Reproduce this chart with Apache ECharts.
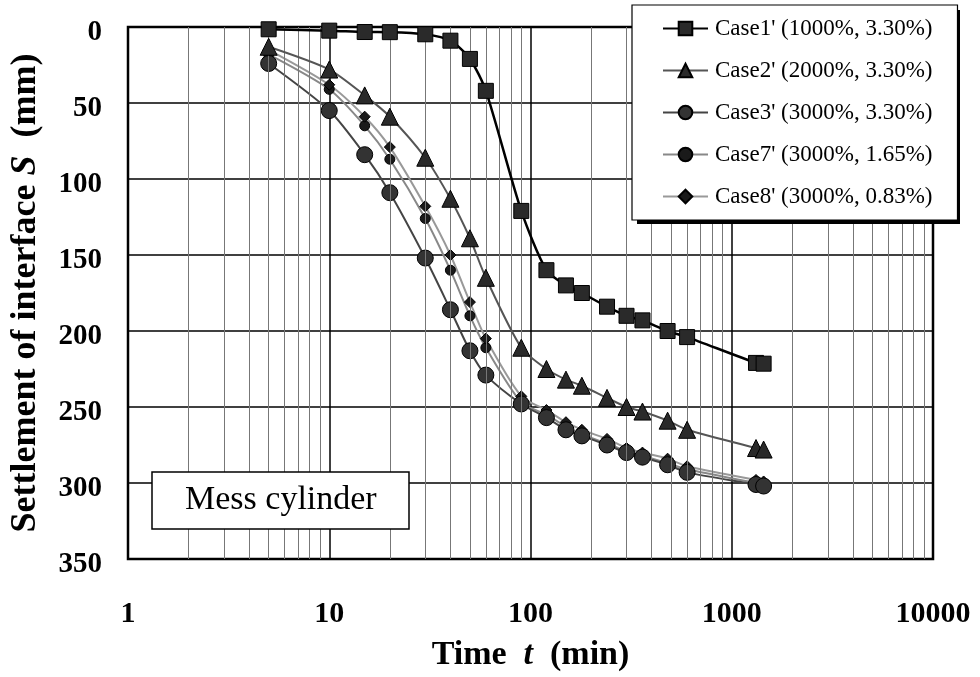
<!DOCTYPE html>
<html>
<head>
<meta charset="utf-8">
<script src="https://cdn.jsdelivr.net/npm/echarts@6/dist/echarts.min.js"></script>
<style>
html,body{margin:0;padding:0;background:#fff;}
#chart{width:980px;height:677px;}
</style>
</head>
<body>
<div id="chart"></div>
<script>
// Time t (min)
var times = [5, 10, 15, 20, 30, 40, 50, 60, 90, 120, 150, 180, 240, 300, 360, 480, 600, 1320, 1440];
// Settlement of interface S (mm)
var case1 = [1.5, 2.4, 3.3, 3.4, 4.8, 9, 21, 42, 121, 160, 170, 175, 184, 190, 193, 200, 204, 221, 221.5];
var case2 = [13, 28, 45, 59, 86, 113, 139, 165, 211, 225, 232, 236, 244, 250, 253, 259, 265, 277, 278];
var case3 = [24, 55, 84, 109, 152, 186, 213, 229, 248, 257, 265, 269, 275, 280, 283, 288, 293, 301, 302];
var case7 = [18, 41, 65, 87, 126, 160, 190, 211, 247, 255, 263, 268, 274, 279, 282, 287, 291, 300, 301];
var case8 = [15, 38, 59, 79, 118, 150, 181, 205, 243, 252, 260, 265, 271, 277, 280, 284, 289, 298, 299];
var seriesNames = ["Case1' (1000%, 3.30%)", "Case2' (2000%, 3.30%)", "Case3' (3000%, 3.30%)", "Case7' (3000%, 1.65%)", "Case8' (3000%, 0.83%)"];
var xTickLabels = ['1', '10', '100', '1000', '10000'];
var yTicks = [0, 50, 100, 150, 200, 250, 300, 350];
var minorGrid = [2,3,4,5,6,7,8,9,20,30,40,50,60,70,80,90,200,300,400,500,600,700,800,900,2000,3000,4000,5000,6000,7000,8000,9000];

function pairs(ys){ return times.map(function(t,i){ return [t, ys[i]]; }); }

var serif = 'Liberation Serif, Times New Roman, serif';
var chart = echarts.init(document.getElementById('chart'));

var option = {
  backgroundColor: '#fff',
  animation: false,
  grid: {left: 128, right: 47, top: 27, bottom: 114, show: true, borderColor: '#000', borderWidth: 2.5, backgroundColor: 'transparent'},
  graphic: [
    {type: 'rect', left: 637, top: 10, z: 15, shape: {width: 323, height: 214}, style: {fill: '#000'}, silent: true}
  ],
  title: {
    text: 'Mess cylinder',
    left: 152, top: 472, z: 20,
    padding: [11, 33, 11, 33],
    borderColor: '#000', borderWidth: 1.5, backgroundColor: '#fff',
    textStyle: {fontFamily: serif, fontSize: 34, fontWeight: 'normal', color: '#000', lineHeight: 35}
  },
  legend: {
    data: seriesNames,
    orient: 'vertical',
    left: 632, top: 5, z: 20,
    padding: [11, 25, 11, 30],
    itemWidth: 45, itemHeight: 17, itemGap: 17,
    backgroundColor: '#fff', borderColor: '#000', borderWidth: 1.2,
    textStyle: {fontFamily: serif, fontSize: 23, color: '#000', lineHeight: 25, padding: [0,0,0,2]}
  },
  xAxis: {
    type: 'log', logBase: 10, min: 1, max: 10000,
    name: 'Time  {i|t}  (min)',
    nameLocation: 'middle', nameGap: 79,
    nameTextStyle: {fontFamily: serif, fontSize: 34, fontWeight: 'bold', color: '#000',
      rich: {i: {fontFamily: serif, fontSize: 34, fontWeight: 'bold', fontStyle: 'italic', color: '#000'}}},
    axisLine: {show: false}, axisTick: {show: false},
    axisLabel: {margin: 40, fontFamily: serif, fontSize: 30, fontWeight: 'bold', color: '#000',
      formatter: function(v){ var k = Math.round(Math.log10(v)); return xTickLabels[k] !== undefined ? xTickLabels[k] : ''; }},
    splitLine: {show: true, lineStyle: {color: '#000', width: 1.5}}
  },
  yAxis: {
    type: 'value', inverse: true, min: 0, max: 350, interval: 50,
    name: 'Settlement of interface {i|S}  (mm)',
    nameLocation: 'middle', nameGap: 84,
    nameTextStyle: {fontFamily: serif, fontSize: 36, fontWeight: 'bold', color: '#000',
      rich: {i: {fontFamily: serif, fontSize: 36, fontWeight: 'bold', fontStyle: 'italic', color: '#000'}}},
    axisLine: {show: false}, axisTick: {show: false},
    axisLabel: {margin: 26, fontFamily: serif, fontSize: 29, fontWeight: 'bold', color: '#000',
      verticalAlign: 'top', lineHeight: 12,
      formatter: function(v){ return yTicks.indexOf(v) >= 0 ? String(v) : ''; }},
    splitLine: {show: true, lineStyle: {color: '#000', width: 1.5}}
  },
  series: [
    {
      type: 'line', name: 'minor', data: [], silent: true, z: 1,
      markLine: {silent: true, symbol: ['none','none'], label: {show: false},
        lineStyle: {color: '#777', width: 1, type: 'solid'},
        data: minorGrid.map(function(v){ return {xAxis: v}; })}
    },
    {
      type: 'line', name: seriesNames[0], data: pairs(case1), smooth: 0.25,
      symbol: 'rect', symbolSize: 15, z: 6,
      lineStyle: {color: '#000', width: 2.5},
      itemStyle: {color: '#2a2a2a', borderColor: '#000', borderWidth: 1}
    },
    {
      type: 'line', name: seriesNames[1], data: pairs(case2), smooth: 0.25,
      symbol: 'triangle', symbolSize: 17, z: 5,
      lineStyle: {color: '#555', width: 2},
      itemStyle: {color: '#2a2a2a', borderColor: '#000', borderWidth: 1}
    },
    {
      type: 'line', name: seriesNames[2], data: pairs(case3), smooth: 0.25,
      symbol: 'circle', symbolSize: 16, z: 4,
      lineStyle: {color: '#444', width: 2},
      itemStyle: {color: '#333', borderColor: '#000', borderWidth: 1}
    },
    {
      type: 'line', name: seriesNames[3], data: pairs(case7), smooth: 0.25,
      symbol: 'circle', symbolSize: 10, z: 3,
      lineStyle: {color: '#888', width: 2},
      itemStyle: {color: '#1a1a1a', borderColor: '#000', borderWidth: 1}
    },
    {
      type: 'line', name: seriesNames[4], data: pairs(case8), smooth: 0.25,
      symbol: 'diamond', symbolSize: 11, z: 3,
      lineStyle: {color: '#999', width: 2},
      itemStyle: {color: '#1a1a1a', borderColor: '#000', borderWidth: 1}
    }
  ]
};
chart.setOption(option);
</script>
</body>
</html>
